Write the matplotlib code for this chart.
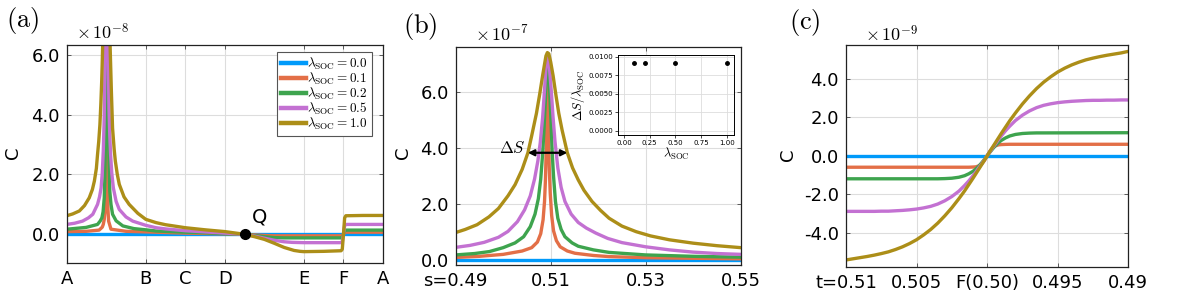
import numpy as np
import matplotlib
matplotlib.use('Agg')
import matplotlib.pyplot as plt

plt.rcParams['font.family'] = ['DejaVu Sans']
plt.rcParams['axes.unicode_minus'] = False

# Julia-ish default palette
colors = ['#009afa', '#e36f47', '#3ea44e', '#c371d2', '#ac8e18']
lambdas = ['0.0', '0.1', '0.2', '0.5', '1.0']

#-- panel (a): path A-B-C-D-E-F-A, values in units of 1e-8
path_ticks = [0, 2, 3, 4, 6, 7, 8]
path_labels = ['A', 'B', 'C', 'D', 'E', 'F', 'A']
Q_pos = (4.5, 0.0)

xa_blue = [0.0, 8.0]
ya_blue = [0.0, 0.0]
xa_red = [0.0, 0.5, 0.82, 0.9, 0.925, 0.95, 0.97, 0.98, 0.99, 0.995, 1.0, 1.005, 1.015,
          1.03, 1.045, 1.06, 1.12, 1.5, 2.26, 3.0, 4.0, 4.5, 4.75, 5.0, 5.25, 6.94, 6.97,
          7.0, 7.03, 7.06, 8.0]
ya_red = [0.09, 0.1, 0.14, 0.24, 0.33, 0.5, 0.8, 1.11, 2.0, 3.5, 7.0, 10.0, 5.0,
          1.44, 0.8, 0.44, 0.17, 0.1, 0.07, 0.04, 0.015, 0.0, -0.02, -0.04, -0.05, -0.05, -0.04,
          0.0, 0.06, 0.07, 0.07]
xa_green = [0.0, 0.49, 0.78, 0.85, 0.89, 0.92, 0.95, 0.965, 0.98, 0.99, 1.0, 1.01, 1.025,
            1.04, 1.06, 1.09, 1.12, 1.16, 1.25, 1.42, 1.7, 2.0, 2.26, 3.0, 3.5, 4.0, 4.5,
            4.75, 5.0, 5.25, 5.5, 6.0, 6.94, 6.97, 7.0, 7.03, 7.06, 8.0]
ya_green = [0.17, 0.23, 0.33, 0.45, 0.55, 0.75, 1.22, 1.9, 3.1, 5.0, 8.0, 10.0, 8.0,
            4.5, 3.1, 1.44, 1.0, 0.67, 0.45, 0.28, 0.19, 0.15, 0.11, 0.07, 0.05, 0.02, 0.0,
            -0.04, -0.08, -0.11, -0.12, -0.12, -0.12, -0.1, 0.0, 0.12, 0.14, 0.14]
xa_purple = [0.0, 0.2, 0.4, 0.55, 0.66, 0.78, 0.83, 0.87, 0.9, 0.925, 0.945, 0.96, 0.975,
             0.99, 1.0, 1.02, 1.04, 1.055, 1.07, 1.09, 1.11, 1.14, 1.18, 1.25, 1.33, 1.5,
             1.67, 2.0, 2.26, 2.5, 3.0, 3.5, 4.0, 4.5, 4.75, 5.0, 5.25, 5.5, 5.7, 6.0, 6.5,
             6.94, 6.97, 7.0, 7.03, 7.06, 7.5, 8.0]
ya_purple = [0.33, 0.37, 0.44, 0.55, 0.67, 1.0, 1.25, 1.55, 2.05, 2.78, 3.7, 4.78, 6.5,
             9.0, 10.0, 9.0, 7.5, 5.5, 4.2, 3.3, 2.67, 2.05, 1.55, 1.1, 0.83, 0.58,
             0.44, 0.3, 0.22, 0.18, 0.12, 0.08, 0.04, 0.0, -0.06, -0.13, -0.2, -0.25, -0.27, -0.28, -0.28,
             -0.28, -0.25, 0.0, 0.3, 0.33, 0.33, 0.33]
xa_gold = [0.0, 0.15, 0.32, 0.45, 0.57, 0.65, 0.7, 0.75, 0.78, 0.81, 0.84, 0.865, 0.885,
           0.9, 0.915, 0.94, 0.97, 1.0, 1.03, 1.07, 1.1, 1.13, 1.16, 1.2, 1.23, 1.28, 1.33,
           1.45, 1.58, 1.8, 2.0, 2.26, 2.5, 3.0, 3.5, 4.0, 4.5, 4.75, 5.0, 5.25, 5.5, 5.75,
           5.9, 6.0, 6.5, 6.94, 6.97, 7.0, 7.03, 7.06, 7.5, 8.0]
ya_gold = [0.62, 0.68, 0.78, 0.96, 1.22, 1.5, 1.78, 2.2, 2.67, 3.1, 3.67, 4.4, 5.11,
           5.8, 6.6, 8.5, 10.0, 11.0, 10.0, 8.0, 6.2, 4.78, 3.55, 2.85, 2.45, 2.0, 1.67,
           1.25, 1.0, 0.7, 0.5, 0.39, 0.32, 0.22, 0.15, 0.09, 0.0, -0.08, -0.17, -0.3, -0.44, -0.54,
           -0.57, -0.58, -0.57, -0.55, -0.5, 0.0, 0.55, 0.62, 0.63, 0.63]

#-- panel (b): s axis, values in units of 1e-7
sb_blue = [0.49, 0.55]
yb_blue = [0.0, 0.0]
sb_red = [0.49, 0.495, 0.5, 0.504, 0.506, 0.5072, 0.5079, 0.5084, 0.5087, 0.5089, 0.5091,
          0.5092, 0.5093, 0.5094, 0.5095, 0.5097, 0.5099, 0.5102, 0.5106, 0.5112, 0.512,
          0.5135, 0.5151, 0.519, 0.5223, 0.53, 0.54, 0.55]
yb_red = [0.1, 0.14, 0.21, 0.33, 0.45, 0.65, 0.95, 1.45, 2.1, 2.9, 4.3,
          5.5, 7.2, 6.2, 4.8, 3.3, 2.4, 1.6, 1.05, 0.7, 0.48,
          0.33, 0.25, 0.17, 0.13, 0.09, 0.07, 0.05]
sb_green = [0.49, 0.494, 0.4971, 0.5, 0.5025, 0.5043, 0.5057, 0.5067, 0.5074, 0.5079,
            0.5083, 0.5086, 0.5089, 0.5091, 0.5093, 0.5095, 0.5097, 0.5099, 0.5101, 0.5103,
            0.5106, 0.511, 0.5115, 0.5122, 0.513, 0.5145, 0.5158, 0.519, 0.5223, 0.53,
            0.54, 0.55]
yb_green = [0.19, 0.24, 0.31, 0.45, 0.62, 0.84, 1.2, 1.65, 2.2, 2.9,
            3.8, 4.7, 5.8, 6.7, 7.3, 7.0, 6.4, 5.6, 4.8, 3.9,
            3.0, 2.1, 1.5, 1.1, 0.84, 0.62, 0.5, 0.37, 0.28, 0.19,
            0.14, 0.11]
sb_purple = [0.49, 0.493, 0.496, 0.499, 0.501, 0.503, 0.5045, 0.5057, 0.5066, 0.5073,
             0.5078, 0.5083, 0.5087, 0.509, 0.5093, 0.5097, 0.5101, 0.5105, 0.5109, 0.5115,
             0.5122, 0.513, 0.5143, 0.5158, 0.5175, 0.5195, 0.522, 0.525, 0.53, 0.535,
             0.54, 0.545, 0.55]
yb_purple = [0.46, 0.53, 0.64, 0.82, 1.03, 1.38, 1.8, 2.3, 2.9, 3.55,
             4.2, 5.1, 6.1, 6.85, 7.35, 6.95, 6.1, 5.1, 4.25, 3.3,
             2.6, 2.1, 1.65, 1.35, 1.15, 0.97, 0.78, 0.63, 0.48, 0.37,
             0.29, 0.24, 0.21]
sb_gold = [0.49, 0.492, 0.4945, 0.497, 0.499, 0.501, 0.5025, 0.504, 0.5052, 0.506,
           0.507, 0.5077, 0.5083, 0.5087, 0.509, 0.5093, 0.5096, 0.51, 0.5105, 0.5111,
           0.5117, 0.5124, 0.5135, 0.5146, 0.5158, 0.517, 0.5187, 0.5205, 0.5223, 0.525,
           0.528, 0.531, 0.535, 0.54, 0.545, 0.55]
yb_gold = [0.99, 1.1, 1.27, 1.55, 1.85, 2.3, 2.7, 3.25, 3.84, 4.45,
           5.25, 5.95, 6.6, 7.0, 7.3, 7.42, 7.38, 7.08, 6.6, 5.9,
           5.25, 4.65, 3.84, 3.3, 2.87, 2.5, 2.1, 1.78, 1.5, 1.22,
           1.02, 0.87, 0.73, 0.61, 0.52, 0.45]
dS_left, dS_right, dS_level = 0.5052, 0.5135, 3.84

# inset: Delta S / lambda
lam_inset = [0.1, 0.2, 0.5, 1.0]
ds_inset = [0.0091, 0.0091, 0.0091, 0.0091]

#-- panel (c): t axis, values in units of 1e-9
tc_blue = [0.51, 0.49]
yc_blue = [0.0, 0.0]
tc_red = [0.51, 0.5016, 0.5013, 0.501, 0.5008, 0.5006, 0.5004, 0.5002, 0.5,
          0.4998, 0.4996, 0.4994, 0.4992, 0.499, 0.4987, 0.4984, 0.49]
yc_red = [-0.59, -0.59, -0.59, -0.58, -0.57, -0.52, -0.43, -0.25, 0.0,
          0.25, 0.43, 0.52, 0.57, 0.585, 0.595, 0.6, 0.6]
tc_green = [0.51, 0.504, 0.5035, 0.503, 0.5025, 0.502, 0.5016, 0.5013, 0.501, 0.5008,
            0.5006, 0.5004, 0.5002, 0.5, 0.4998, 0.4996, 0.4994, 0.4992, 0.499, 0.4987,
            0.4984, 0.498, 0.4975, 0.497, 0.4965, 0.496, 0.49]
yc_green = [-1.19, -1.19, -1.19, -1.18, -1.16, -1.11, -1.03, -0.93, -0.8, -0.68,
            -0.54, -0.37, -0.19, 0.0, 0.19, 0.37, 0.54, 0.68, 0.8, 0.93,
            1.03, 1.11, 1.16, 1.18, 1.19, 1.19, 1.2]
tc_grid = [0.51, 0.5095, 0.509, 0.5085, 0.508, 0.5075, 0.507, 0.5065, 0.506, 0.5055,
           0.505, 0.5045, 0.504, 0.5035, 0.503, 0.5025, 0.502, 0.5016, 0.5013, 0.501,
           0.5008, 0.5006, 0.5004, 0.5002, 0.5, 0.4998, 0.4996, 0.4994, 0.4992, 0.499,
           0.4987, 0.4984, 0.498, 0.4975, 0.497, 0.4965, 0.496, 0.4955, 0.495, 0.4945,
           0.494, 0.4935, 0.493, 0.4925, 0.492, 0.4915, 0.491, 0.4905, 0.49]
yc_purple = [-2.88, -2.88, -2.88, -2.88, -2.88, -2.87, -2.87, -2.85, -2.83, -2.8,
             -2.76, -2.7, -2.62, -2.5, -2.33, -2.11, -1.83, -1.54, -1.3, -1.03,
             -0.84, -0.63, -0.43, -0.21, 0.0, 0.21, 0.43, 0.63, 0.84, 1.03,
             1.3, 1.54, 1.83, 2.11, 2.33, 2.5, 2.62, 2.7, 2.76, 2.8,
             2.83, 2.85, 2.87, 2.88, 2.88, 2.89, 2.89, 2.9, 2.9]
yc_gold = [-5.4, -5.34, -5.28, -5.22, -5.15, -5.07, -4.98, -4.86, -4.72, -4.55,
           -4.35, -4.1, -3.82, -3.49, -3.11, -2.69, -2.22, -1.82, -1.49, -1.16,
           -0.93, -0.7, -0.47, -0.235, 0.0, 0.235, 0.47, 0.7, 0.93, 1.16,
           1.49, 1.82, 2.22, 2.69, 3.11, 3.49, 3.82, 4.1, 4.35, 4.55,
           4.72, 4.86, 4.98, 5.07, 5.15, 5.22, 5.28, 5.34, 5.42]

W, H = 1177, 295
fig = plt.figure(figsize=(W/100., H/100.), dpi=100)

def box(l, r, t, b):
    return [l/W, 1-b/H, (r-l)/W, (b-t)/H]

def style(ax):
    ax.grid(True, color='#dddddd', lw=0.8)
    ax.set_axisbelow(True)
    ax.tick_params(direction='in', length=3, width=0.6, labelsize=13, pad=5,
                   top=True, right=True, color='#444444')
    for sp in ax.spines.values():
        sp.set_linewidth(0.9)
        sp.set_color('#222222')

lw = 2.4

# (a)
axa = fig.add_axes(box(66.7, 383, 45, 263.3))
style(axa)
for xs, ys, c, l in zip([xa_blue, xa_red, xa_green, xa_purple, xa_gold],
                        [ya_blue, ya_red, ya_green, ya_purple, ya_gold], colors, lambdas):
    axa.plot(xs, ys, color=c, lw=lw, label=r'$\lambda_{\rm SOC} = ' + l + '$')
axa.plot([Q_pos[0]], [Q_pos[1]], 'o', color='black', ms=7, zorder=5)
axa.text(4.88, 0.58, 'Q', fontsize=14, ha='center', va='center')
axa.set_xlim(0, 8)
axa.set_ylim(-0.97, 6.33)
axa.set_xticks(path_ticks)
axa.set_xticklabels(path_labels)
axa.set_yticks([0, 2, 4, 6])
axa.set_yticklabels(['0.0', '2.0', '4.0', '6.0'])
axa.set_ylabel('C', fontsize=13)
axa.yaxis.set_label_coords(-0.141, 0.505)
leg = axa.legend(loc='upper right', bbox_to_anchor=(0.965, 0.968), borderaxespad=0,
                 fontsize=9.5, handlelength=1.9, handletextpad=0.1, labelspacing=-0.1,
                 borderpad=0.3, fancybox=False, framealpha=1, edgecolor='#555555')
for t in leg.get_texts():
    t.set_math_fontfamily('cm')
leg.get_frame().set_linewidth(0.8)
for h in leg.get_lines():
    h.set_linewidth(3.2)

# (b)
axb = fig.add_axes(box(455.7, 740.7, 46.7, 265))
style(axb)
for xs, ys, c in zip([sb_blue, sb_red, sb_green, sb_purple, sb_gold],
                     [yb_blue, yb_red, yb_green, yb_purple, yb_gold], colors):
    axb.plot(xs, ys, color=c, lw=lw)
axb.annotate('', xy=(dS_left, dS_level), xytext=(dS_right, dS_level),
             arrowprops=dict(arrowstyle='<|-|>', color='black', lw=1.6, mutation_scale=9,
                             shrinkA=0, shrinkB=0))
axb.text(0.50198, 4.01, r'$\Delta S$', fontsize=12, ha='center', va='center', math_fontfamily='cm')
axb.set_xlim(0.49, 0.55)
axb.set_ylim(-0.17, 7.63)
axb.set_xticks([0.49, 0.51, 0.53, 0.55])
axb.set_xticklabels(['s=0.49', '0.51', '0.53', '0.55'])
axb.set_yticks([0, 2, 4, 6])
axb.set_yticklabels(['0.0', '2.0', '4.0', '6.0'])
axb.set_ylabel('C', fontsize=13)
axb.yaxis.set_label_coords(-0.153, 0.513)

# inset
axi = fig.add_axes(box(618.3, 734, 55, 135))
axi.grid(True, color='#dddddd', lw=0.6)
axi.set_axisbelow(True)
axi.plot(lam_inset, ds_inset, 'o', color='black', ms=2.5)
axi.set_xlim(-0.055, 1.07)
axi.set_ylim(-0.00054, 0.01023)
axi.set_xticks([0.0, 0.25, 0.5, 0.75, 1.0])
axi.set_xticklabels(['0.00', '0.25', '0.50', '0.75', '1.00'])
axi.set_yticks([0.0, 0.0025, 0.005, 0.0075, 0.01])
axi.set_yticklabels(['0.0000', '0.0025', '0.0050', '0.0075', '0.0100'])
axi.tick_params(labelsize=5, length=2, width=0.5, pad=1.5)
for sp in axi.spines.values():
    sp.set_linewidth(0.7)
axi.set_xlabel(r'$\lambda_{\rm SOC}$', fontsize=9, labelpad=0, math_fontfamily='cm')
axi.set_ylabel(r'$\Delta S/\lambda_{\rm SOC}$', fontsize=9, labelpad=1, math_fontfamily='cm')

# (c)
axc = fig.add_axes(box(846, 1128.3, 45, 266.7))
style(axc)
for xs, ys, c in zip([tc_blue, tc_red, tc_green, tc_grid, tc_grid],
                     [yc_blue, yc_red, yc_green, yc_purple, yc_gold], colors):
    axc.plot(xs, ys, color=c, lw=lw)
axc.set_xlim(0.51, 0.49)
axc.set_ylim(-5.75, 5.75)
axc.set_xticks([0.51, 0.505, 0.5, 0.495, 0.49])
axc.set_xticklabels(['t=0.51', '0.505', 'F(0.50)', '0.495', '0.49'])
axc.set_yticks([-4, -2, 0, 2, 4])
axc.set_yticklabels(['-4.0', '-2.0', '0.0', '2.0', '4.0'])
axc.set_ylabel('C', fontsize=13)
axc.yaxis.set_label_coords(-0.174, 0.504)

# panel tags and exponents
for x, y, s in [(23, 21, '(a)'), (420, 26, '(b)'), (805, 22, '(c)')]:
    fig.text(x/W, 1-y/H, r'$\mathrm{' + s + '}$', fontsize=19, ha='center', va='center',
             math_fontfamily='cm')
for x, y, e in [(103, 33, '-8'), (502, 35, '-7'), (892, 35, '-9')]:
    fig.text(x/W, 1-y/H, r'$\times\,10^{' + e + '}$', fontsize=13, ha='center', va='center',
             math_fontfamily='cm')

plt.savefig('out.png', dpi=100)
